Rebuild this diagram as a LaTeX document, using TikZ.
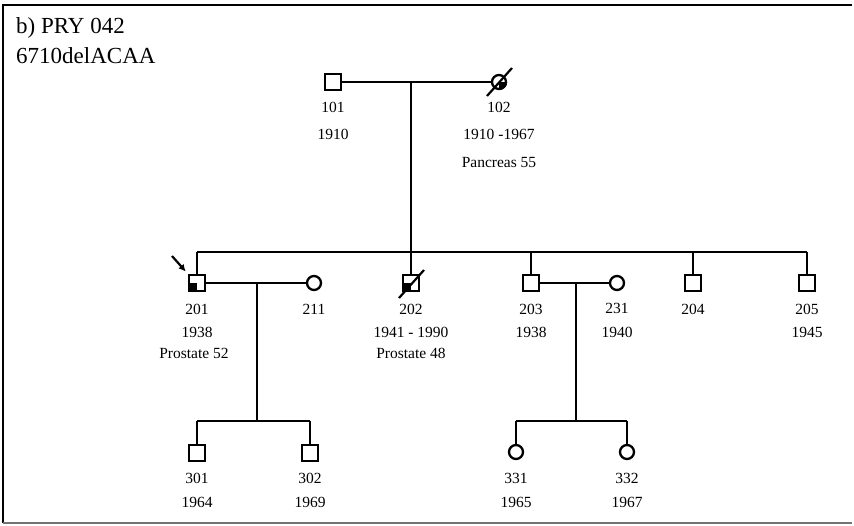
\documentclass[tikz,border=0pt]{standalone}
\usepackage{fontspec}
\setmainfont{Liberation Serif}
\usetikzlibrary{arrows.meta}

\begin{document}
\begin{tikzpicture}[x=1pt, y=-1pt,
        male/.style={rectangle, draw, line width=2.5pt, minimum size=16pt, inner sep=0pt},
        female/.style={circle, draw, line width=2.3pt, minimum size=14pt, inner sep=0pt},
        txt/.style={anchor=base, inner sep=0pt, font=\fontsize{15.5}{18}\selectfont},
        title/.style={anchor=base west, inner sep=0pt, font=\fontsize{23}{26}\selectfont},
        link/.style={line width=1.3pt}
    ]
        \useasboundingbox (0,0) rectangle (854,525);
        % frame
        \draw[line width=2pt] (3,523) -- (3,5) -- (852,5);
        \draw[line width=1.2pt, black!55] (3,523) -- (852,523);

        \node[title] (ttl1) at (16,33) {b) PRY 042};
        \node[title] (ttl2) at (16,63) {6710delACAA};

        % generation I
        \node[male] (i101) at (333,82) {};
        \node[female] (i102) at (499,82) {};
        % generation II
        \node[male] (i201) at (197,283) {};
        \node[female] (i211) at (314,283) {};
        \node[male] (i202) at (411,283) {};
        \node[male] (i203) at (531,283) {};
        \node[female] (i231) at (617,283) {};
        \node[male] (i204) at (693,283) {};
        \node[male] (i205) at (807,283) {};
        % generation III
        \node[male] (i301) at (197,453) {};
        \node[male] (i302) at (310,453) {};
        \node[female] (i331) at (516,452) {};
        \node[female] (i332) at (627,452) {};

        \coordinate (m1) at (411,82);
        \coordinate (sib2) at (411,252);
        \coordinate (m2) at (257,283);
        \coordinate (sib3a) at (257,421);
        \coordinate (m3) at (576,283);
        \coordinate (sib3b) at (576,421);
        \coordinate (arr) at (172,256);

        \draw[link] (i101) -- (i102);
        \draw[link] (m1) -- (sib2);
        \draw[link] (i201.north |- sib2) -- (i205.north |- sib2);
        \foreach \n in {i201,i202,i203,i204,i205}
            \draw[link] (\n.north) -- (\n.north |- sib2);

        \draw[link] (i201) -- (i211);
        \draw[link] (m2) -- (sib3a);
        \draw[link] (i301.north |- sib3a) -- (i302.north |- sib3a);
        \foreach \n in {i301,i302}
            \draw[link] (\n.north) -- (\n.north |- sib3a);

        \draw[link] (i203) -- (i231);
        \draw[link] (m3) -- (sib3b);
        \draw[link] (i331.north |- sib3b) -- (i332.north |- sib3b);
        \foreach \n in {i331,i332}
            \draw[link] (\n.north) -- (\n.north |- sib3b);

        % affected and deceased
        \fill (i201.center) rectangle (i201.south west);
        \fill (i202.center) rectangle (i202.south west);
        \fill (i102.center) -- (i102.east) arc[start angle=0, end angle=-90, radius=8pt] -- cycle;
        \draw[line width=2.2pt] (487,96) -- (512,68);
        \draw[line width=2.2pt] (399,298) -- (424,270);

        % proband
        \draw[line width=2.2pt, -{Latex[length=7pt, width=7pt]}, shorten >=3pt] (arr) -- (i201.north west);

        \foreach \x/\y/\t [count=\k] in {333/112/101, 333/139/1910,
                499/112/102, 499/139/{1910 -1967}, 499/167/{Pancreas 55},
                197/314/201, 197/337/1938, 194/358/{Prostate 52},
                314/314/211,
                411/314/202, 411/337/{1941 - 1990}, 411/358/{Prostate 48},
                531/314/203, 531/337/1938, 617/313/231, 617/337/1940,
                693/314/204, 807/314/205, 807/337/1945,
                197/483/301, 197/507/1964, 310/483/302, 310/507/1969,
                516/483/331, 516/507/1965, 627/483/332, 627/507/1967}
            \node[txt] (lab\k) at (\x,\y) {\t};
    \end{tikzpicture}
\end{document}
